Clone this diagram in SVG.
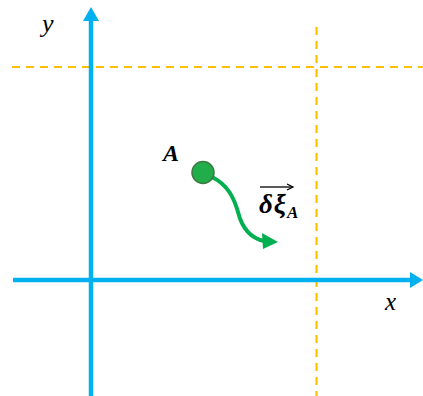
<svg xmlns="http://www.w3.org/2000/svg" width="423" height="396" viewBox="0 0 423 396">
  <style>
    .axis { stroke: #00B0F0; stroke-width: 4.5; fill: none; }
    .axis-head { fill: #00B0F0; }
    .guide { stroke: #FFC000; stroke-width: 2.2; fill: none; stroke-dasharray: 8 6; }
    .lbl { font-family: "Liberation Serif", "DejaVu Serif", serif; font-style: italic; fill: #000; }
    .bold { font-weight: bold; }
    .move { stroke: #00B050; stroke-width: 4; fill: none; stroke-linecap: round; }
  </style>
  <rect width="423" height="396" fill="#ffffff"/>

  <g id="guides">
    <line class="guide" x1="12" y1="67" x2="423" y2="67"/>
    <line class="guide" x1="316.5" y1="27" x2="316.5" y2="396"/>
  </g>

  <g id="axes">
    <g id="y-axis">
      <line class="axis" x1="91" y1="396" x2="91" y2="18"/>
      <polygon class="axis-head" points="91,7 83,21 99,21"/>
      <text class="lbl" x="42" y="32" font-size="26">y</text>
    </g>
    <g id="x-axis">
      <line class="axis" x1="13" y1="280" x2="412" y2="280"/>
      <polygon class="axis-head" points="423,280 410,272 410,288"/>
      <text class="lbl" x="385" y="310" font-size="25">x</text>
    </g>
  </g>

  <g id="connectors">
    <path class="move" d="M 212 177 C 228 185, 234 198, 238 212 C 242 228, 250 238, 264 241"/>
    <polygon fill="#00B050" points="278,242 262,233 263,249"/>
  </g>

  <g id="node-A">
    <circle cx="203" cy="172.5" r="11" fill="#22AD4B" stroke="#3E7A45" stroke-width="1.5"/>
    <text class="lbl bold" x="163" y="161" font-size="24">A</text>
  </g>

  <g id="label-dxi">
    <text class="lbl bold" x="259" y="213" font-size="27" letter-spacing="1">δξ<tspan font-size="17" dy="5" letter-spacing="0">A</tspan></text>
    <line x1="260" y1="187" x2="292" y2="187" stroke="#000" stroke-width="1.3"/>
    <path d="M 287 184 L 293 187 L 287 190" stroke="#000" stroke-width="1.3" fill="none"/>
  </g>
</svg>
